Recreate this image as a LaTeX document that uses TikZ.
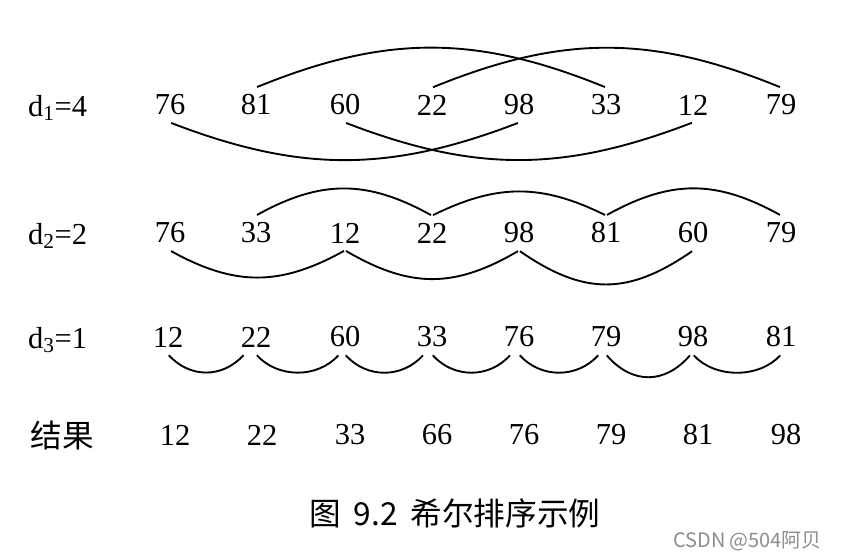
\documentclass[tikz,border=0pt]{standalone}
\usepackage{fontspec}
\setmainfont{Liberation Serif}
\newfontfamily\cjk{Noto Sans CJK SC}
\usepackage{tikz}
\tikzstyle{num}=[inner sep=6pt, font=\fontsize{26}{28}\selectfont]
\tikzstyle{lbl}=[inner sep=0pt, anchor=base west, font=\fontsize{26}{28}\selectfont]
\tikzstyle{hanzi}=[inner sep=0pt, font=\cjk\fontsize{27}{30}\selectfont]
\tikzstyle{wmark}=[inner sep=0pt, anchor=east, text=black!45, font=\cjk\fontsize{17}{19}\selectfont]
\tikzstyle{arc}=[line width=1.6pt, shorten <=1pt, shorten >=1pt]

\begin{document}
\begin{tikzpicture}[x=0.03cm, y=-0.03cm]
				\useasboundingbox (0,0) rectangle (846,558);
				%The gap d1=4
				\draw (28,116) node[lbl] (d1) {d\textsubscript{1}=4};
				\draw (170,105) node[num] (a1) {76};
				\draw (256,105) node[num] (a2) {81};
				\draw (345,105) node[num] (a3) {60};
				\draw (432,105) node[num] (a4) {22};
				\draw (519,105) node[num] (a5) {98};
				\draw (606,105) node[num] (a6) {33};
				\draw (693,105) node[num] (a7) {12};
				\draw (781,105) node[num] (a8) {79};
				
				\draw[arc] (a2.north) .. controls +(130,-53) and +(-130,-53) .. (a6.north);
				\draw[arc] (a4.north) .. controls +(130,-53) and +(-130,-53) .. (a8.north);
				\draw[arc] (a1.south) .. controls +(130,50) and +(-130,50) .. (a5.south);
				\draw[arc] (a3.south) .. controls +(130,50) and +(-130,50) .. (a7.south);
				
				%The gap d2=2
				\draw (28,244) node[lbl] (d2) {d\textsubscript{2}=2};
				\draw (170,233) node[num] (b1) {76};
				\draw (256,233) node[num] (b2) {33};
				\draw (345,233) node[num] (b3) {12};
				\draw (432,233) node[num] (b4) {22};
				\draw (519,233) node[num] (b5) {98};
				\draw (606,233) node[num] (b6) {81};
				\draw (693,233) node[num] (b7) {60};
				\draw (781,233) node[num] (b8) {79};
				
				\draw[arc] (b2.north) .. controls +(65,-36) and +(-65,-36) .. (b4.north);
				\draw[arc] (b4.north) .. controls +(65,-32) and +(-65,-32) .. (b6.north);
				\draw[arc] (b6.north) .. controls +(65,-36) and +(-65,-36) .. (b8.north);
				\draw[arc] (b1.south) .. controls +(65,36) and +(-65,36) .. (b3.south);
				\draw[arc] (b3.south) .. controls +(65,38) and +(-65,38) .. (b5.south);
				\draw[arc] (b5.south) .. controls +(65,45) and +(-65,45) .. (b7.south);
				
				%The gap d3=1
				\draw (28,348) node[lbl] (d3) {d\textsubscript{3}=1};
				\draw (168,337) node[num] (c1) {12};
				\draw (256,337) node[num] (c2) {22};
				\draw (345,337) node[num] (c3) {60};
				\draw (432,337) node[num] (c4) {33};
				\draw (519,337) node[num] (c5) {76};
				\draw (606,337) node[num] (c6) {79};
				\draw (693,337) node[num] (c7) {98};
				\draw (781,337) node[num] (c8) {81};
				
				\draw[arc] (c1.south) .. controls +(22,24) and +(-22,24) .. ([xshift=-10]c2.south);
				\draw[arc] (c2.south) .. controls +(22,24) and +(-22,24) .. ([xshift=-5]c3.south);
				\draw[arc] (c3.south) .. controls +(22,24) and +(-22,24) .. ([xshift=-7]c4.south);
				\draw[arc] (c4.south) .. controls +(22,24) and +(-22,24) .. ([xshift=-7]c5.south);
				\draw[arc] (c5.south) .. controls +(22,24) and +(-22,24) .. ([xshift=-6]c6.south);
				\draw[arc] (c6.south) .. controls +(26,30) and +(-26,30) .. ([xshift=-2]c7.south);
				\draw[arc] (c7.south) .. controls +(22,24) and +(-22,24) .. (c8.south);
				
				%The result
				\draw (62,435) node[hanzi] (res) {结果};
				\draw (175,435) node[num] (r1) {12};
				\draw (262,435) node[num] (r2) {22};
				\draw (350,435) node[num] (r3) {33};
				\draw (437,435) node[num] (r4) {66};
				\draw (524,435) node[num] (r5) {76};
				\draw (611,435) node[num] (r6) {79};
				\draw (698,435) node[num] (r7) {81};
				\draw (786,435) node[num] (r8) {98};
				
				%The caption
				\draw (455,513) node[hanzi] (cap) {图\hspace{0.4em}9.2\hspace{0.4em}希尔排序示例};
				\draw (822,541) node[wmark] (csdn) {CSDN @504阿贝};
			\end{tikzpicture}
\end{document}
